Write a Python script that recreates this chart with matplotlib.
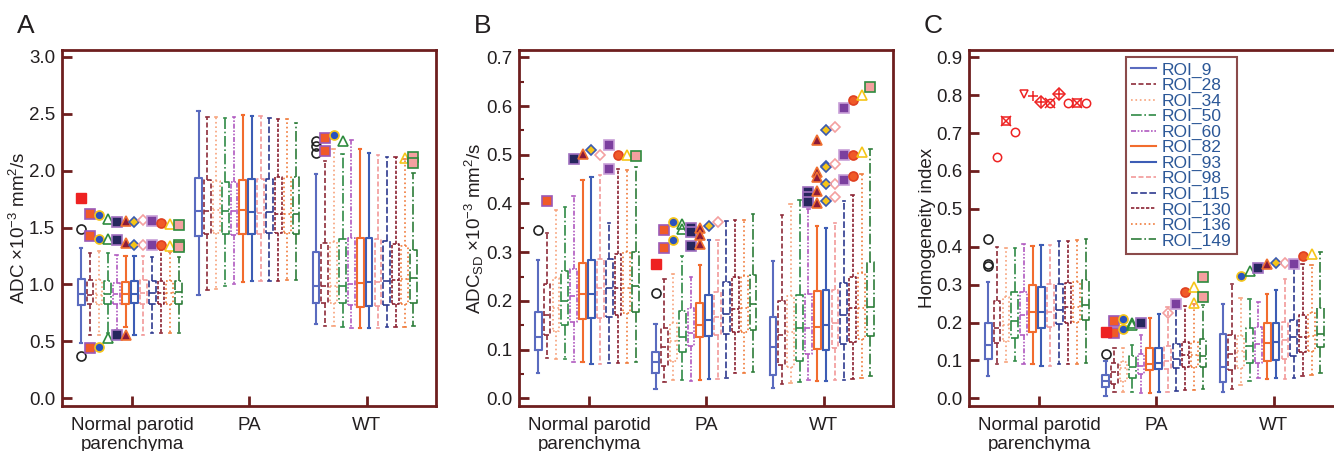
import matplotlib
matplotlib.use("Agg")
import matplotlib.pyplot as plt
from matplotlib.lines import Line2D
from matplotlib.ticker import MultipleLocator

plt.rcParams['font.family'] = ['Liberation Sans', 'DejaVu Sans']
plt.rcParams['mathtext.fontset'] = 'custom'
plt.rcParams['mathtext.rm'] = 'Liberation Sans'
plt.rcParams['mathtext.it'] = 'Liberation Sans'

groups = ['Normal parotid\nparenchyma', 'PA', 'WT']
rois = ['ROI_9', 'ROI_28', 'ROI_34', 'ROI_50', 'ROI_60', 'ROI_82',
        'ROI_93', 'ROI_98', 'ROI_115', 'ROI_130', 'ROI_136', 'ROI_149']

# ---------- 面板A：ADC ----------
# 每行一个组（正常腮腺、PA、WT），每行12个ROI
a_lo = [[0.483, 0.556, 0.556, 0.57, 0.60, 0.63, 0.56, 0.56, 0.57, 0.57, 0.57, 0.57],
        [0.904, 0.948, 0.96, 0.989, 1.0, 1.02, 1.027, 1.027, 1.033, 1.033, 1.039, 1.039],
        [0.653, 0.638, 0.638, 0.623, 0.618, 0.618, 0.618, 0.618, 0.623, 0.623, 0.63, 0.638]]
a_q1 = [[0.817, 0.831, 0.831, 0.831, 0.831, 0.831, 0.837, 0.831, 0.831, 0.831, 0.831, 0.831],
        [1.425, 1.44, 1.455, 1.44, 1.431, 1.44, 1.44, 1.44, 1.449, 1.449, 1.449, 1.44],
        [0.834, 0.834, 0.834, 0.834, 0.822, 0.802, 0.811, 0.811, 0.817, 0.828, 0.831, 0.84]]
a_med = [[0.913, 0.910, 0.907, 0.913, 0.913, 0.919, 0.919, 0.925, 0.925, 0.925, 0.925, 0.93],
         [1.645, 1.645, 1.65, 1.645, 1.645, 1.65, 1.633, 1.627, 1.633, 1.621, 1.621, 1.616],
         [0.989, 0.983, 0.983, 0.989, 1.004, 1.016, 1.021, 1.021, 1.027, 1.039, 1.045, 1.06]]
a_q3 = [[1.045, 1.039, 1.039, 1.03, 1.016, 1.02, 1.03, 1.039, 1.03, 1.03, 1.03, 1.03],
        [1.932, 1.914, 1.908, 1.902, 1.902, 1.92, 1.926, 1.926, 1.926, 1.94, 1.94, 1.946],
        [1.288, 1.364, 1.376, 1.40, 1.408, 1.408, 1.408, 1.40, 1.384, 1.352, 1.335, 1.30]]
a_hi = [[1.323, 1.28, 1.297, 1.28, 1.258, 1.25, 1.25, 1.25, 1.244, 1.305, 1.288, 1.244],
        [2.523, 2.473, 2.467, 2.46, 2.467, 2.485, 2.479, 2.479, 2.46, 2.455, 2.45, 2.423],
        [1.967, 2.084, 2.186, 2.15, 2.268, 2.186, 2.157, 2.137, 2.122, 2.122, 2.10, 1.98]]
a_out = [[[1.49, 0.372], [1.62, 1.43, 0.445], [1.61, 1.40, 0.454], [1.575, 1.40, 0.533],
          [1.55, 1.39, 0.56], [1.557, 1.364, 0.556], [1.55, 1.35], [1.563, 1.346],
          [1.557, 1.346], [1.54, 1.35], [1.528, 1.34], [1.522, 1.346, 1.33]],
         [[] for _ in range(12)],
         [[2.26, 2.215, 2.157], [2.286, 2.175], [2.312], [2.26], [], [], [], [], [], [], [2.107], [2.12, 2.07]]]

# ---------- 面板B：ADC_SD ----------
b_lo = [[0.0513, 0.082, 0.0807, 0.0807, 0.0753, 0.0739, 0.0705, 0.0705, 0.0718, 0.0718, 0.0718, 0.0739],
        [0.0192, 0.0342, 0.0376, 0.0376, 0.0363, 0.0376, 0.039, 0.0404, 0.0424, 0.0513, 0.0527, 0.054],
        [0.0219, 0.0287, 0.0308, 0.0342, 0.0376, 0.0363, 0.0363, 0.0376, 0.0376, 0.0404, 0.0424, 0.0458]]
b_q1 = [[0.0992, 0.130, 0.138, 0.150, 0.156, 0.163, 0.164, 0.166, 0.168, 0.171, 0.1745, 0.178],
        [0.0513, 0.0657, 0.0766, 0.0958, 0.1074, 0.1266, 0.1286, 0.130, 0.1314, 0.1369, 0.1369, 0.1396],
        [0.0472, 0.0677, 0.065, 0.0766, 0.091, 0.1013, 0.0999, 0.104, 0.1122, 0.1156, 0.1225, 0.1273]]
b_med = [[0.126, 0.171, 0.1847, 0.1998, 0.210, 0.2135, 0.2149, 0.2258, 0.2258, 0.2258, 0.2258, 0.231],
         [0.0739, 0.106, 0.117, 0.126, 0.1334, 0.1505, 0.1608, 0.1663, 0.1731, 0.1834, 0.1848, 0.193],
         [0.1047, 0.130, 0.1369, 0.1437, 0.145, 0.1457, 0.1499, 0.154, 0.171, 0.1847, 0.1847, 0.1875]]
b_q3 = [[0.1765, 0.2354, 0.2477, 0.262, 0.265, 0.277, 0.283, 0.2867, 0.2867, 0.297, 0.2997, 0.2997],
        [0.0958, 0.1437, 0.154, 0.179, 0.1848, 0.1964, 0.2121, 0.219, 0.2395, 0.2484, 0.2504, 0.2532],
        [0.1676, 0.1998, 0.2094, 0.2114, 0.2135, 0.2196, 0.2217, 0.2217, 0.2368, 0.2497, 0.258, 0.2805]]
b_hi = [[0.284, 0.3387, 0.386, 0.3928, 0.416, 0.449, 0.4543, 0.4585, 0.3606, 0.470, 0.4687, 0.4749],
        [0.1526, 0.2443, 0.2545, 0.292, 0.249, 0.273, 0.3257, 0.3243, 0.364, 0.3654, 0.3654, 0.3777],
        [0.2812, 0.3757, 0.399, 0.4064, 0.389, 0.353, 0.3497, 0.3606, 0.4058, 0.4167, 0.46, 0.5112]]
b_out = [[[0.3455], [0.4044], [], [], [0.492], [0.5016], [0.5105], [0.50], [0.52, 0.4715], [0.50], [0.50], [0.497]],
         [[0.217], [0.345, 0.309], [0.3627, 0.3243], [0.358, 0.3476], [0.3503, 0.3408, 0.3134],
          [0.349, 0.3346, 0.316], [0.3545], [0.362], [], [], [], []],
         [[], [], [], [], [0.4236, 0.414, 0.4037], [0.531, 0.4653, 0.4537, 0.426, 0.4017],
          [0.5508, 0.4776, 0.4742, 0.4393, 0.4058], [0.5577, 0.4804, 0.4393, 0.4133],
          [0.5953, 0.4988, 0.4475], [0.613, 0.4988, 0.457], [0.6227, 0.5064], [0.639]]]

# ---------- 面板C：均匀性指数 ----------
c_lo = [[0.059, 0.0906, 0.095, 0.0985, 0.0906, 0.0906, 0.0862, 0.0862, 0.0906, 0.0906, 0.0906, 0.0924],
        [0.006, 0.0167, 0.0167, 0.0167, 0.015, 0.015, 0.0167, 0.0167, 0.0194, 0.022, 0.022, 0.0238],
        [0.0167, 0.0255, 0.035, 0.0457, 0.0528, 0.051, 0.0528, 0.051, 0.0545, 0.059, 0.0616, 0.0677]]
c_q1 = [[0.103, 0.147, 0.152, 0.158, 0.167, 0.174, 0.1847, 0.188, 0.197, 0.1988, 0.2006, 0.2067],
        [0.029, 0.0378, 0.0457, 0.0545, 0.0633, 0.0757, 0.0774, 0.0774, 0.079, 0.0818, 0.0818, 0.0836],
        [0.044, 0.0757, 0.079, 0.0924, 0.094, 0.0985, 0.1003, 0.1047, 0.1126, 0.1214, 0.124, 0.1346]]
c_med = [[0.1399, 0.1847, 0.1927, 0.203, 0.219, 0.227, 0.227, 0.2287, 0.233, 0.242, 0.242, 0.2463],
         [0.0457, 0.0686, 0.079, 0.0836, 0.0862, 0.0906, 0.0941, 0.0994, 0.103, 0.1135, 0.1135, 0.1117],
         [0.0836, 0.117, 0.1258, 0.139, 0.1425, 0.146, 0.1478, 0.154, 0.161, 0.161, 0.1645, 0.1707]]
c_q3 = [[0.1997, 0.257, 0.2675, 0.2806, 0.2798, 0.299, 0.2947, 0.3026, 0.3026, 0.3044, 0.308, 0.3123],
        [0.0616, 0.0924, 0.0959, 0.1117, 0.117, 0.132, 0.1337, 0.138, 0.1425, 0.1478, 0.1496, 0.1575],
        [0.17, 0.167, 0.1645, 0.1847, 0.189, 0.198, 0.1997, 0.2015, 0.2067, 0.219, 0.2252, 0.2375]]
c_hi = [[0.308, 0.4003, 0.396, 0.3977, 0.408, 0.402, 0.4047, 0.4047, 0.4152, 0.4152, 0.4179, 0.4205],
        [0.0994, 0.132, 0.1337, 0.1408, 0.167, 0.211, 0.2217, 0.242, 0.2446, 0.243, 0.249, 0.2472],
        [0.249, 0.301, 0.264, 0.262, 0.255, 0.2754, 0.286, 0.3158, 0.343, 0.3554, 0.351, 0.3862]]
c_out = [[[0.4196, 0.3537, 0.349]] + [[] for _ in range(11)],
         [[0.117], [0.205, 0.173], [0.2103, 0.182], [0.1997, 0.194], [0.198], [], [], [0.2243],
          [0.249], [0.2806], [0.2947, 0.2525], [0.321, 0.2683]],
         [[], [], [0.3237], [0.335], [0.345], [0.354], [0.356], [0.358], [0.354], [0.3765], [0.381], []]]

# 正常腮腺组中ROI_28~ROI_149的红色离群点（面板C）
c_red_vals = [0.636, 0.732, 0.703, 0.802, 0.798, 0.781, 0.779, 0.802, 0.779, 0.779, 0.779]
c_red_marks = ['o', 'sx', 'o', 'v', '+', 'D+', 'ox', 'D+', 'o', 'sx', 'o']
# ROI_9 列上额外的红色实心方块：(面板, 组, 数值)
red_squares = [(0, 0, 1.76), (1, 1, 0.275), (2, 1, 0.175)]

colors = ['#5A6BBF', '#8E2C3A', '#F7A27A', '#2F8A45', '#B05AC0', '#F26C2E',
          '#3D5DB5', '#F29A9A', '#2E3A8F', '#8B2232', '#F07A3A', '#2E7D3A']
styles = ['-', (0, (3, 1.5)), ':', '-.', (0, (3, 1, 1, 1, 1, 1)), '-',
          '-', (0, (3, 1.5)), (0, (4, 1.5)), (0, (2, 1)), ':', '-.']
# 离群点样式：(marker, 填充色, 边框色)
flier_style = [('o', 'none', '#222222'), ('s', '#F05A28', '#9B59B6'), ('o', '#2A52BE', '#F5C518'),
               ('^', 'none', '#2E8B3E'), ('s', '#26265E', '#A070C0'), ('^', '#8B1A3A', '#F07030'),
               ('D', '#F5C518', '#3A5BB0'), ('D', 'none', '#F4A0A0'), ('s', '#7B3F9E', '#C8A0D8'),
               ('o', '#F05A28', '#E04020'), ('^', 'none', '#F5C518'), ('s', '#F4A0A0', '#2E8B3E')]

spine_c = '#6E1E1E'
text_c = '#231F20'

panels = [
    ('A', a_lo, a_q1, a_med, a_q3, a_hi, a_out, (-0.065, 3.06), 0.5, 'ADC ×10$^{-3}$ mm$^2$/s'),
    ('B', b_lo, b_q1, b_med, b_q3, b_hi, b_out, (-0.015, 0.715), 0.1, 'ADC$_{\\mathregular{SD}}$ ×10$^{-3}$ mm$^2$/s'),
    ('C', c_lo, c_q1, c_med, c_q3, c_hi, c_out, (-0.0195, 0.919), 0.1, 'Homogeneity index'),
]
lefts = [62, 519, 969]

fig = plt.figure(figsize=(13.34, 4.51), dpi=100)
step = 0.0755
shift = -0.018

axes = []
for p, (letter, lo, q1, med, q3, hi, out, ylim, major, ylab) in enumerate(panels):
    ax = fig.add_axes([lefts[p] / 1334, 45.3 / 451, 374 / 1334, 355.7 / 451])
    axes.append(ax)
    for r in range(12):
        stats = []
        for g in range(3):
            stats.append({'whislo': lo[g][r], 'q1': q1[g][r], 'med': med[g][r],
                          'q3': q3[g][r], 'whishi': hi[g][r], 'fliers': out[g][r]})
        pos = [g + 1 + (r - 5.5) * step + shift for g in range(3)]
        lw = 1.5 if styles[r] == '-' else 1.2
        line = dict(color=colors[r], linestyle=styles[r], linewidth=lw)
        mk, fc, ec = flier_style[r]
        ax.bxp(stats, positions=pos, widths=0.058, capwidths=0.02, manage_ticks=False,
               boxprops=line, whiskerprops=line, medianprops=line,
               capprops=dict(color=colors[r], linewidth=lw),
               flierprops=dict(marker=mk, markerfacecolor=fc, markeredgecolor=ec,
                               markersize=6.5 if mk != 'D' else 5.5, markeredgewidth=1.2,
                               linestyle='none'))
    for (pp, g, v) in red_squares:
        if pp == p:
            ax.plot(g + 1 - 5.5 * step + shift, v, 's', color='#EE2222', markersize=6.5)
    if p == 2:
        for r in range(11):
            xx = 1 + (r + 1 - 5.5) * step + shift
            for m in c_red_marks[r]:
                ax.plot(xx, c_red_vals[r], m, markerfacecolor='none', markeredgecolor='#EE2222',
                        markersize=6 if m in 'o^vsD' else 7, markeredgewidth=1.1)

    ax.set_xlim(0.403, 3.59)
    ax.set_ylim(*ylim)
    ax.set_xticks([1, 2, 3])
    ax.set_xticklabels(groups)
    ax.yaxis.set_major_locator(MultipleLocator(major))
    if p == 1:
        ax.yaxis.set_minor_locator(MultipleLocator(major / 2))
    ax.yaxis.set_major_formatter(plt.FormatStrFormatter('%.1f'))
    ax.tick_params(axis='both', which='major', direction='in', length=7, width=2,
                   color=spine_c, labelsize=13.5, labelcolor=text_c, pad=5)
    ax.tick_params(axis='y', which='minor', direction='in', length=3.5, width=1.5, color=spine_c)
    ax.tick_params(axis='x', pad=8)
    for s in ax.spines.values():
        s.set_color(spine_c)
        s.set_linewidth(2)
    ax.set_ylabel(ylab, fontsize=13.5, color=text_c, labelpad=0)
    fig.text((lefts[p] - 45) / 1334, 1 - 26 / 451, letter, fontsize=19, color=text_c,
             ha='left', va='center')

handles = [Line2D([], [], color=colors[r], linestyle=styles[r],
                  linewidth=1.5 if styles[r] == '-' else 1.2) for r in range(12)]
leg = axes[2].legend(handles, rois, loc='upper left', bbox_to_anchor=(0.42, 0.98),
                     borderaxespad=0, fontsize=12.5, labelcolor='#2B5797', handlelength=1.4,
                     handletextpad=0.35, labelspacing=0.015, borderpad=0.3,
                     frameon=True, fancybox=False)
leg.get_frame().set_edgecolor(spine_c)
leg.get_frame().set_linewidth(1.5)

fig.savefig('out.png', dpi=100)
